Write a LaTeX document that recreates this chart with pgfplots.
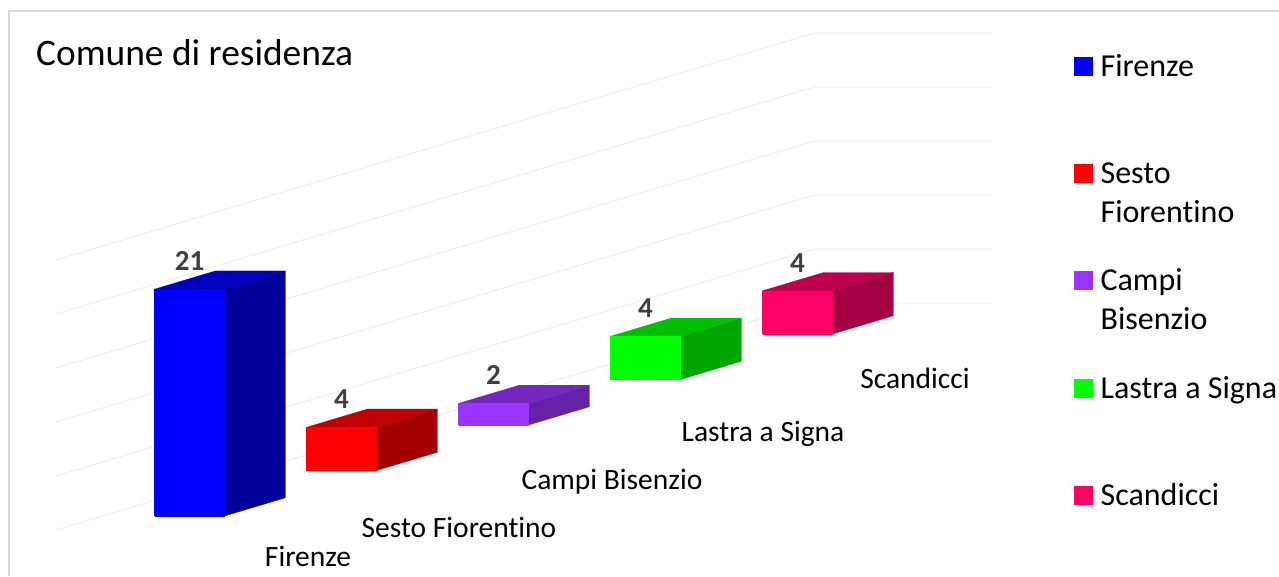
\documentclass[border=0pt]{standalone}
\usepackage{fontspec}
\setmainfont{Carlito}[Ligatures={NoCommon,NoRequired,NoContextual}]
\usepackage{pgfplots}
\pgfplotsset{compat=1.18}
\definecolor{gridc}{HTML}{EFEFEF}
\definecolor{framec}{HTML}{D9D9D9}
\definecolor{blueF}{HTML}{0000FF}\definecolor{blueS}{HTML}{00009B}\definecolor{blueT}{HTML}{0000BE}
\definecolor{redF}{HTML}{FF0000}\definecolor{redS}{HTML}{A50000}\definecolor{redT}{HTML}{C00000}
\definecolor{purF}{HTML}{9933FF}\definecolor{purS}{HTML}{6622A6}\definecolor{purT}{HTML}{7426C0}
\definecolor{greF}{HTML}{00FF00}\definecolor{greS}{HTML}{00A500}\definecolor{greT}{HTML}{00BF00}
\definecolor{pinF}{HTML}{FF0066}\definecolor{pinS}{HTML}{A50042}\definecolor{pinT}{HTML}{BF004C}
\newcommand{\legtxt}[1]{\begin{tabular}[t]{@{}l@{}}#1\end{tabular}}
\begin{document}
\begin{tikzpicture}[x=1pt,y=1pt]
\path[use as bounding box] (0,0) rectangle (1279,576);
\draw[framec,line width=1.6pt] (8.8,0) -- (8.8,565) -- (1279,565);
\begin{axis}[
  at={(154.5pt,60pt)}, anchor=origin,
  x={(70pt,0pt)}, y={(60.8pt,18.2pt)}, z={(0pt,10.8pt)},
  xmin=-0.74, xmax=1.8, ymin=-0.77, ymax=11.7, zmin=0, zmax=25,
  hide axis, clip=false,
  legend image code/.code={\fill[#1] (0pt,32pt) rectangle (18pt,50pt);},
  legend cell align=left,
  legend style={at={(axis cs:13.14,0,42.86)}, anchor=north west, draw=none, fill=none,
    font=\fontsize{32}{39}\selectfont, row sep=0pt, inner sep=0pt, outer sep=0pt,
    nodes={inner sep=0pt, outer sep=0pt, text height=23pt, text depth=84.3pt},
    /tikz/every odd column/.style={column sep=8pt}},
]
% gridlines
\addplot3[gridc,line width=1pt,forget plot] coordinates {(-0.74,-0.77,0)(-0.74,11.7,0)(1.8,11.7,0)};
\addplot3[gridc,line width=1pt,forget plot] coordinates {(-0.74,-0.77,5)(-0.74,11.7,5)(1.8,11.7,5)};
\addplot3[gridc,line width=1pt,forget plot] coordinates {(-0.74,-0.77,10)(-0.74,11.7,10)(1.8,11.7,10)};
\addplot3[gridc,line width=1pt,forget plot] coordinates {(-0.74,-0.77,15)(-0.74,11.7,15)(1.8,11.7,15)};
\addplot3[gridc,line width=1pt,forget plot] coordinates {(-0.74,-0.77,20)(-0.74,11.7,20)(1.8,11.7,20)};
\addplot3[gridc,line width=1pt,forget plot] coordinates {(-0.74,-0.77,25)(-0.74,11.7,25)(1.8,11.7,25)};
% Firenze = 21
\addplot3[fill=blueS,draw=blueS,line width=.3pt,forget plot] coordinates {(1,0,0)(1,1,0)(1,1,21)(1,0,21)(1,0,0)};
\addplot3[fill=blueT,draw=blueT,line width=.3pt,forget plot] coordinates {(0,0,21)(1,0,21)(1,1,21)(0,1,21)(0,0,21)};
\addplot3[fill=blueF,draw=blueF,line width=.3pt] coordinates {(0,0,0)(1,0,0)(1,0,21)(0,0,21)(0,0,0)};
\addlegendentry{\legtxt{Firenze}}
% Sesto Fiorentino = 4
\addplot3[fill=redS,draw=redS,line width=.3pt,forget plot] coordinates {(1,2.5,0)(1,3.5,0)(1,3.5,4)(1,2.5,4)(1,2.5,0)};
\addplot3[fill=redT,draw=redT,line width=.3pt,forget plot] coordinates {(0,2.5,4)(1,2.5,4)(1,3.5,4)(0,3.5,4)(0,2.5,4)};
\addplot3[fill=redF,draw=redF,line width=.3pt] coordinates {(0,2.5,0)(1,2.5,0)(1,2.5,4)(0,2.5,4)(0,2.5,0)};
\addlegendentry{\legtxt{Sesto\\Fiorentino}}
% Campi Bisenzio = 2
\addplot3[fill=purS,draw=purS,line width=.3pt,forget plot] coordinates {(1,5,0)(1,6,0)(1,6,2)(1,5,2)(1,5,0)};
\addplot3[fill=purT,draw=purT,line width=.3pt,forget plot] coordinates {(0,5,2)(1,5,2)(1,6,2)(0,6,2)(0,5,2)};
\addplot3[fill=purF,draw=purF,line width=.3pt] coordinates {(0,5,0)(1,5,0)(1,5,2)(0,5,2)(0,5,0)};
\addlegendentry{\legtxt{Campi\\Bisenzio}}
% Lastra a Signa = 4
\addplot3[fill=greS,draw=greS,line width=.3pt,forget plot] coordinates {(1,7.5,0)(1,8.5,0)(1,8.5,4)(1,7.5,4)(1,7.5,0)};
\addplot3[fill=greT,draw=greT,line width=.3pt,forget plot] coordinates {(0,7.5,4)(1,7.5,4)(1,8.5,4)(0,8.5,4)(0,7.5,4)};
\addplot3[fill=greF,draw=greF,line width=.3pt] coordinates {(0,7.5,0)(1,7.5,0)(1,7.5,4)(0,7.5,4)(0,7.5,0)};
\addlegendentry{\legtxt{Lastra a Signa}}
% Scandicci = 4
\addplot3[fill=pinS,draw=pinS,line width=.3pt,forget plot] coordinates {(1,10,0)(1,11,0)(1,11,4)(1,10,4)(1,10,0)};
\addplot3[fill=pinT,draw=pinT,line width=.3pt,forget plot] coordinates {(0,10,4)(1,10,4)(1,11,4)(0,11,4)(0,10,4)};
\addplot3[fill=pinF,draw=pinF,line width=.3pt] coordinates {(0,10,0)(1,10,0)(1,10,4)(0,10,4)(0,10,0)};
\addlegendentry{\legtxt{Scandicci}}
% value labels
\begin{scope}[every node/.style={font=\fontsize{29}{30}\selectfont\bfseries, text=black!75}]
\node at (axis cs:0.5,0,23.6) {21};
\node at (axis cs:0.5,2.5,6.6) {4};
\node at (axis cs:0.5,5,4.6) {2};
\node at (axis cs:0.5,7.5,6.6) {4};
\node at (axis cs:0.5,10,6.6) {4};
\end{scope}
\end{axis}
% title and category labels
\node[anchor=base west,inner sep=0pt,font=\fontsize{37.4}{40}\selectfont] at (36,576-66) {Comune di residenza};
\begin{scope}[every node/.style={anchor=base,inner sep=0pt,font=\fontsize{29.5}{30}\selectfont}]
\node at (308,576-566) {Firenze};
\node at (459,576-537) {Sesto Fiorentino};
\node at (612,576-489) {Campi Bisenzio};
\node at (763,576-441) {Lastra a Signa};
\node at (915,576-388) {Scandicci};
\end{scope}
\end{tikzpicture}
\end{document}
